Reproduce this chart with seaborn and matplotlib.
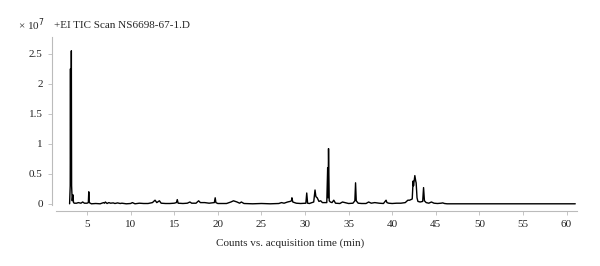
import matplotlib
matplotlib.use("Agg")
import matplotlib.pyplot as plt
import seaborn as sns

# retention time (min) and TIC counts (x 10^7)
rt_min = [3.0, 3.07, 3.1, 3.13, 3.17, 3.2, 3.23, 3.3, 3.38, 3.45, 3.55, 3.8, 4.0, 4.3, 4.5, 4.7,
          5.0, 5.15, 5.2, 5.25, 5.5, 6.0, 6.5, 6.9, 7.0, 7.1, 7.3, 7.5, 7.7, 8.0, 8.2, 8.5,
          8.8, 9.0, 9.5, 10.0, 10.2, 10.5, 11.0, 11.5, 12.0, 12.5, 12.8, 13.0, 13.3, 13.5,
          14.0, 14.5, 15.0, 15.25, 15.35, 15.45, 16.0, 16.5, 16.8, 17.0, 17.5, 17.8, 18.0,
          18.5, 19.0, 19.6, 19.7, 19.78, 20.0, 21.0, 21.5, 21.8, 22.2, 22.5, 22.7, 23.0,
          24.0, 25.0, 26.0, 27.0, 27.3, 27.6, 28.0, 28.3, 28.45, 28.5, 28.6, 29.0, 29.5, 30.1,
          30.2, 30.3, 30.5, 31.0, 31.15, 31.25, 31.4, 31.6, 31.8, 32.0, 32.5, 32.6, 32.65,
          32.7, 32.78, 32.9, 33.1, 33.3, 33.5, 34.0, 34.3, 34.6, 35.0, 35.5, 35.72, 35.8,
          35.88, 36.1, 36.5, 37.0, 37.3, 37.6, 38.0, 38.5, 39.0, 39.3, 39.4, 39.6, 40.0,
          40.5, 41.0, 41.5, 41.8, 42.0, 42.3, 42.4, 42.45, 42.55, 42.6, 42.7, 42.75, 42.85,
          42.95, 43.2, 43.5, 43.6, 43.7, 43.9, 44.2, 44.5, 44.8, 45.2, 45.6, 45.8, 46.0,
          46.3, 48.0, 61.0]
tic_counts = [0.0, 0.3, 2.25, 0.4, 0.4, 2.55, 0.3, 0.05, 0.15, 0.02, 0.01, 0.01, 0.02, 0.01, 0.03, 0.01,
              0.01, 0.02, 0.2, 0.02, 0.0, 0.005, 0.0, 0.02, 0.01, 0.03, 0.005, 0.02, 0.01, 0.015, 0.005, 0.015,
              0.005, 0.01, 0.0, 0.005, 0.02, 0.0, 0.01, 0.005, 0.005, 0.02, 0.06, 0.02, 0.05, 0.01,
              0.005, 0.005, 0.01, 0.02, 0.07, 0.01, 0.005, 0.01, 0.03, 0.01, 0.01, 0.05, 0.02,
              0.02, 0.01, 0.02, 0.1, 0.02, 0.005, 0.005, 0.03, 0.05, 0.03, 0.01, 0.03, 0.005,
              0.0, 0.005, 0.0, 0.005, 0.02, 0.01, 0.03, 0.04, 0.05, 0.1, 0.03, 0.01, 0.005, 0.01,
              0.18, 0.01, 0.005, 0.03, 0.23, 0.12, 0.1, 0.04, 0.05, 0.02, 0.02, 0.6, 0.1,
              0.92, 0.05, 0.03, 0.02, 0.06, 0.01, 0.005, 0.03, 0.02, 0.005, 0.01, 0.05, 0.35,
              0.05, 0.01, 0.005, 0.005, 0.03, 0.01, 0.02, 0.01, 0.005, 0.06, 0.02, 0.01, 0.005,
              0.01, 0.01, 0.02, 0.06, 0.06, 0.08, 0.38, 0.3, 0.42, 0.47, 0.38, 0.35, 0.1,
              0.04, 0.03, 0.04, 0.27, 0.05, 0.02, 0.01, 0.03, 0.01, 0.005, 0.01, 0.015, 0.005,
              0.0, 0.0, 0.0]

x_ticks = [5, 10, 15, 20, 25, 30, 35, 40, 45, 50, 55, 60]
y_ticks = [0, 0.5, 1, 1.5, 2, 2.5]
y_labels = ["0", "0.5", "1", "1.5", "2", "2.5"]

sns.set_style("ticks")
plt.rcParams['font.family'] = ['Liberation Serif', 'DejaVu Serif']

fig = plt.figure(figsize=(6.0, 2.66), dpi=100)
ax = fig.add_axes([56 / 600, 1 - 205 / 266, 521 / 600, 168 / 266])

sns.lineplot(x=rt_min, y=tic_counts, color='black', linewidth=1.0, ax=ax)

ax.set_xlim(1.44, 61.2)
ax.set_ylim(-0.02, 2.78)
ax.set_xticks(x_ticks)
ax.set_yticks(y_ticks)
ax.set_yticklabels(y_labels)
ax.tick_params(labelsize=8, colors='#222222', length=3, width=0.6)
ax.tick_params(axis='both', color='#bbbbbb')

sns.despine(ax=ax, offset={'left': 3, 'bottom': 4.5})
for s in ['left', 'bottom']:
    ax.spines[s].set_color('#bbbbbb')
    ax.spines[s].set_linewidth(0.8)

ax.set_xlabel('Counts vs. acquisition time (min)', fontsize=8)
ax.xaxis.set_label_coords(0.449, -0.2)
ax.set_ylabel('')

fig.text(18 / 600, 1 - 25 / 266, r'× 10$^{7}$', fontsize=8, va='center')
fig.text(54 / 600, 1 - 25 / 266, '+EI TIC Scan NS6698-67-1.D', fontsize=8, va='center')

fig.savefig('out.png', dpi=100)
